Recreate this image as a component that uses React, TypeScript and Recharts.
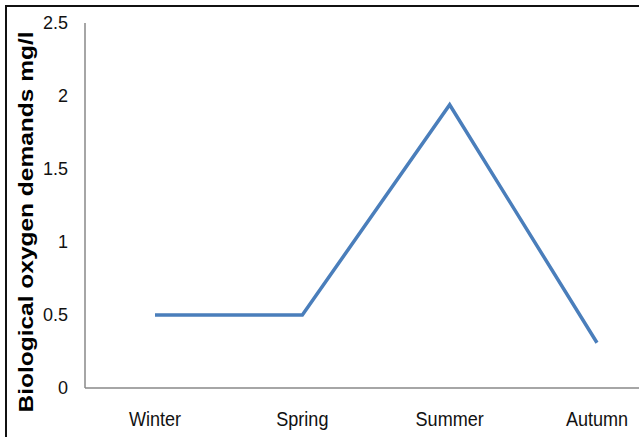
import React from 'react';
import { LineChart, Line, XAxis, YAxis, Label } from 'recharts';

const seasons = ['Winter', 'Spring', 'Summer', 'Autumn'];
const bodValues = [0.5, 0.5, 1.94, 0.31];
const yTicks = [0, 0.5, 1, 1.5, 2, 2.5];

const data = seasons.map((season, i) => ({ season, bod: bodValues[i] }));

const font = 'Arial, "Liberation Sans", sans-serif';

const YTitle: React.FC<any> = () => (
  <text
    x={0}
    y={0}
    transform="translate(33, 222) rotate(-90)"
    textAnchor="middle"
    fontFamily={font}
    fontWeight="bold"
    fontSize={20}
    fill="#000"
    textLength={381}
    lengthAdjust="spacingAndGlyphs"
  >
    Biological oxygen demands mg/l
  </text>
);

// the source labels look a bit narrow, so squeeze them sideways
const SeasonTick: React.FC<any> = ({ x, y, payload }) => (
  <text
    transform={`translate(${x}, ${y + 38}) scale(0.86, 1)`}
    textAnchor="middle"
    fontFamily={font}
    fontSize={21}
    fill="#111"
  >
    {payload.value}
  </text>
);

const App: React.FC = () => {
  return (
    <div style={{ position: 'absolute', left: 0, top: 0, width: 639, height: 437, overflow: 'hidden', background: '#fff' }}>
      <div
        style={{
          position: 'absolute',
          left: 5,
          top: 5,
          width: 700,
          height: 500,
          borderTop: '2px solid #111',
          borderLeft: '2px solid #111',
        }}
      />
      <div style={{ position: 'absolute', left: 0, top: 0 }}>
        <LineChart width={639} height={437} data={data} margin={{ top: 23, right: 0, left: 0, bottom: 0 }}>
          <XAxis
            dataKey="season"
            padding={{ left: 70, right: 42 }}
            axisLine={{ stroke: '#888', strokeWidth: 1.5 }}
            tickLine={false}
            tickSize={0}
            tickMargin={0}
            height={49}
            tick={<SeasonTick />}
          />
          <YAxis
            domain={[0, 2.5]}
            ticks={yTicks}
            width={85}
            axisLine={{ stroke: '#888', strokeWidth: 1.5 }}
            tickLine={false}
            tickSize={0}
            tickMargin={17}
            tick={{ fontSize: 18, fill: '#111', fontFamily: font }}
          >
            <Label content={<YTitle />} />
          </YAxis>
          <Line
            isAnimationActive={false}
            type="linear"
            dataKey="bod"
            stroke="#4a7ebb"
            strokeWidth={3.5}
            dot={false}
          />
        </LineChart>
      </div>
    </div>
  );
};

export default App;
